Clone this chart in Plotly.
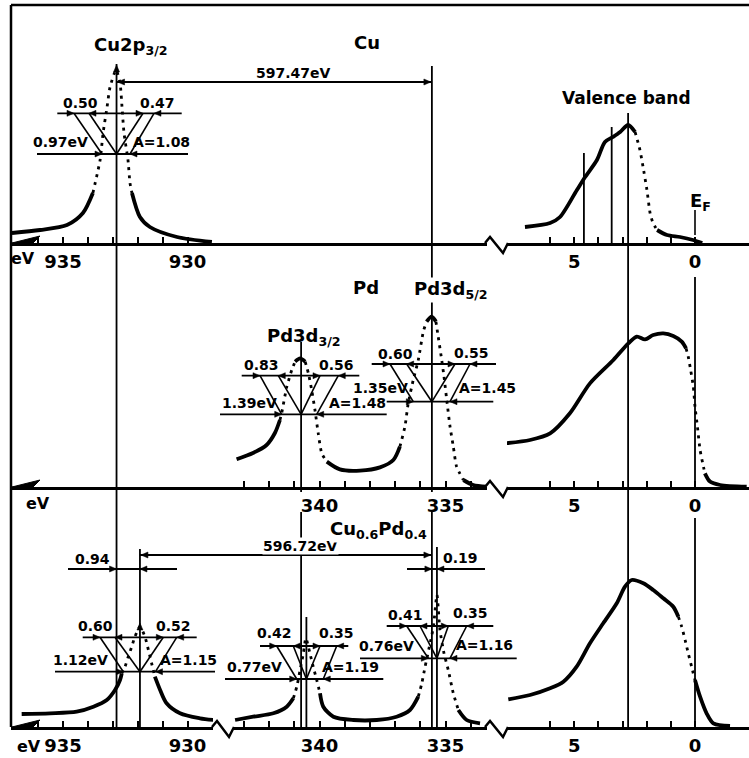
import plotly.graph_objects as go

W, H = 749, 758

# ---------------- data ----------------
# binding energy (eV) / intensity (arb. units); None separates segments
# --- Cu (top panel) ---
cu_top_solid_E = [937.05, 935.92, 934.84, 934.2, 933.8, None, 932.23, 931.91, 931.51, 930.42, 929.02]
cu_top_solid_I = [5, 6.5, 9, 15, 25, None, 25, 13, 8, 3, 0.5]
cu_top_dot_E = [933.8, 933.51, 933.39, 933.23, 933.11, 932.87, 932.71, 932.63, 932.55, 932.39, 932.31, 932.23]
cu_top_dot_I = [25, 41.5, 55, 68, 78, 86.5, 80, 68, 55, 41.5, 30, 25]

vb_cu_solid_E = [7.04, 6.0, 5.59, 4.89, 4.55, 4.06, 3.73, 3.4, 3.1, 2.77, 2.48, None, 1.57, 1.16, 0.62, 0.08, -0.3]
vb_cu_solid_I = [8, 10, 13, 26.5, 33, 41.5, 50.5, 53, 55.5, 59, 55.5, None, 6.5, 4, 3, 1.5, 0]
vb_cu_dot_E = [2.48, 2.28, 2.15, 1.99, 1.86, 1.74, 1.57]
vb_cu_dot_I = [55.5, 46.5, 38, 26.5, 15, 10, 6.5]

# --- Pd (middle panel) ---
pd_mid_solid_E = [343.29, 342.64, 342.10, 341.77, 341.57, None, 340.97, 340.77, 340.57, None,
                  339.71, 339.19, 338.39, 337.60, 337.07, 336.81, None, 335.75, 335.55, 335.38, None,
                  334.29, 333.90, 333.37]
pd_mid_solid_I = [13.85, 17, 21, 27, 33.5, None, 62.7, 64.3, 62.7, None,
                  12.7, 8.8, 8.2, 9.8, 13.5, 20.2, None, 82.7, 85.2, 82.7, None,
                  3.5, 1, 0.2]
pd_mid_dot_E = [341.57, 341.50, 341.30, 341.10, 340.97, None,
                340.57, 340.44, 340.31, 340.18, 340.05, 339.91, 339.71, None,
                336.81, 336.61, 336.48, 336.28, 336.08, 335.88, 335.75, None,
                335.38, 335.29, 335.15, 335.06, 334.95, 334.82, 334.69, 334.56, 334.29]
pd_mid_dot_I = [33.5, 37, 50, 58.5, 62.7, None,
                62.7, 56.8, 48.5, 38.5, 26.8, 16.8, 12.7, None,
                20.2, 30.2, 41.8, 53.5, 63.5, 77.7, 82.7, None,
                82.7, 75.2, 63.5, 55.2, 43.5, 30.2, 20.2, 10.2, 3.5]

vb_pd_solid_E = [7.87, 6.83, 6.00, 5.18, 4.35, 3.38, 2.76, 2.41, 2.07, 1.73, 1.31, 0.90, 0.55, 0.37, None,
                 -0.41, -0.62, -1.04, -2.14]
vb_pd_solid_I = [21.85, 23.5, 26.8, 36.85, 51.8, 63.5, 71.8, 75.2, 73.8, 76, 76.8, 75.5, 72.7, 69.3, None,
                 6.8, 2.7, 1, 0.2]
vb_pd_dot_E = [0.37, 0.28, 0.18, 0.07, 0.0, -0.10, -0.21, -0.32, -0.41]
vb_pd_dot_I = [69.3, 65.2, 58.5, 50.2, 40.2, 30.2, 18.5, 11.8, 6.8]

# --- Cu0.6Pd0.4 (bottom panel) ---
cu_bot_solid_E = [936.66, 935.52, 934.45, 933.78, 933.24, 932.91, 932.71, 932.64, None,
                  931.31, 931.10, 930.84, 930.30, 929.50, 928.96]
cu_bot_solid_I = [6.5, 6.85, 7.65, 10.15, 13.5, 18.5, 23.5, 26.85, None,
                  25.15, 18.5, 11.85, 6.85, 4.35, 3.5]
cu_bot_dot_E = [932.64, 932.51, 932.38, 932.24, 932.11, 931.91, 931.71, 931.57, 931.44, 931.31]
cu_bot_dot_I = [26.85, 30.15, 35.15, 40.15, 45.15, 50.15, 45.15, 38.5, 31.85, 25.15]

pd_bot_solid_E = [343.35, 342.63, 341.83, 341.30, 341.04, None,
                  339.98, 339.85, 339.45, 338.66, 337.73, 336.94, 336.41, 336.08, None,
                  334.49, 334.16, 333.63]
pd_bot_solid_I = [3.5, 5.15, 6.85, 10.15, 14.35, None,
                  16.85, 10.15, 5.15, 3.5, 3.5, 5.15, 8.5, 15.15, None,
                  8.5, 3.5, 1.85]
pd_bot_dot_E = [341.04, 340.90, 340.77, 340.64, 340.54, 340.38, 340.25, 340.11, 339.98, None,
                336.08, 335.94, 335.81, 335.64, 335.48, 335.34, 335.22, 335.06, 334.89, 334.69, 334.49]
pd_bot_dot_I = [14.35, 20.15, 28.5, 36.85, 44.35, 36.85, 30.15, 23.5, 16.85, None,
                15.15, 21.85, 30.15, 40.15, 50.15, 66, 48.5, 36.85, 28.5, 16.85, 8.5]

vb_al_solid_E = [7.73, 6.83, 6.00, 5.45, 4.90, 4.35, 3.80, 3.24, 2.90, 2.62, 2.14, 1.73, 1.31, 0.90, 0.69, None,
                 0.0, -0.21, -0.48, -0.76, -1.45]
vb_al_solid_I = [13.85, 16, 19.35, 22.65, 30.15, 41.85, 51.85, 61.85, 70.15, 73.5, 71.85, 68.5, 64.35, 60.15, 55.15, None,
                 23.5, 15.15, 6.85, 1.85, 0.5]
vb_al_dot_E = [0.69, 0.55, 0.41, 0.28, 0.14, 0.0]
vb_al_dot_I = [55.15, 50.15, 43.5, 36.85, 30.15, 23.5]

# peak / reference energies (eV)
cu_peak_pure = 932.85
cu_peak_alloy = 931.91
pd32_peak_pure = 340.73
pd52_peak_pure = 335.54
pd32_peak_alloy = 340.52
pd52_peak_alloy = 335.34
vb_cu_marks = [4.60, 3.45, 2.77]
fermi_level = 0.0

cu_ticks = [936, 935, 934, 933, 932, 931, 930]
pd_ticks = [343, 342, 341, 340, 339, 338, 337, 336, 335, 334]
vb_ticks = [6, 5, 4, 3, 2, 1, 0]
cu_labels = [935, 930]
pd_labels = [340, 335]
vb_labels = [5, 0]

# ---------------- layout helpers ----------------
FONT = "DejaVu Sans"
CAL = {"cu": (935.0, 63.0, 24.9), "pd": (335.0, 445.5, 25.2), "vb": (0.0, 695.0, 24.15)}
BASE = {"y": 243, "y2": 487, "y3": 727}
PANEL_H = 240
YMAX = 120


def e_at(kind, xpx):
    e0, x0, s = CAL[kind]
    return e0 - (xpx - x0) / s


def x_of(kind, e):
    e0, x0, s = CAL[kind]
    return x0 + (e0 - e) * s


def px(x):
    return x / W


def py(y):
    return 1 - y / H


fig = go.Figure()
shapes, annos = [], []

axes = [
    ("x", "cu", (11, 487), "y", cu_ticks, cu_labels),
    ("x2", "vb", (507, 749), "y", vb_ticks, vb_labels),
    ("x3", "pd", (11, 487), "y2", pd_ticks, pd_labels),
    ("x4", "vb", (507, 749), "y2", vb_ticks, vb_labels),
    ("x5", "cu", (11, 213), "y3", cu_ticks, cu_labels),
    ("x6", "pd", (234, 487), "y3", pd_ticks, pd_labels),
    ("x7", "vb", (507, 749), "y3", vb_ticks, vb_labels),
]
layout_axes = {}
for name, kind, (d0, d1), anchor, ticks, labels in axes:
    key = "xaxis" + name[1:]
    layout_axes[key] = dict(
        domain=[px(d0), px(d1)], range=[e_at(kind, d0), e_at(kind, d1)],
        anchor=anchor, showline=True, linecolor="black", linewidth=3,
        ticks="inside", ticklen=6, tickwidth=2, tickcolor="black",
        tickvals=labels, ticktext=[str(t) for t in labels],
        minor=dict(tickvals=ticks, ticks="inside", ticklen=6, tickwidth=2, tickcolor="black",
                   showgrid=False),
        tickfont=dict(family=FONT, size=18, color="black", weight="bold"),
        showgrid=False, zeroline=False, fixedrange=True)
for yname, xanc in (("y", "x"), ("y2", "x3"), ("y3", "x5")):
    b = BASE[yname]
    layout_axes["yaxis" + yname[1:]] = dict(domain=[py(b), py(b - PANEL_H)], range=[0, YMAX],
                                            anchor=xanc, visible=False, fixedrange=True)


def spectrum(xa, ya, Es, Is, Ed, Id):
    fig.add_trace(go.Scatter(x=Es, y=Is, xaxis=xa, yaxis=ya, mode="lines", connectgaps=False,
                             line=dict(color="black", width=3.8, shape="spline", smoothing=0.8),
                             showlegend=False, hoverinfo="skip"))
    fig.add_trace(go.Scatter(x=Ed, y=Id, xaxis=xa, yaxis=ya, mode="lines", connectgaps=False,
                             line=dict(color="black", width=2.8, dash="3px,5px",
                                       shape="spline", smoothing=0.6),
                             showlegend=False, hoverinfo="skip"))


spectrum("x", "y", cu_top_solid_E, cu_top_solid_I, cu_top_dot_E, cu_top_dot_I)
spectrum("x2", "y", vb_cu_solid_E, vb_cu_solid_I, vb_cu_dot_E, vb_cu_dot_I)
spectrum("x3", "y2", pd_mid_solid_E, pd_mid_solid_I, pd_mid_dot_E, pd_mid_dot_I)
spectrum("x4", "y2", vb_pd_solid_E, vb_pd_solid_I, vb_pd_dot_E, vb_pd_dot_I)
spectrum("x5", "y3", cu_bot_solid_E, cu_bot_solid_I, cu_bot_dot_E, cu_bot_dot_I)
spectrum("x6", "y3", pd_bot_solid_E, pd_bot_solid_I, pd_bot_dot_E, pd_bot_dot_I)
spectrum("x7", "y3", vb_al_solid_E, vb_al_solid_I, vb_al_dot_E, vb_al_dot_I)


def seg(x0, y0, x1, y1, w=1.8):
    shapes.append(dict(type="line", xref="paper", yref="paper", x0=px(x0), y0=py(y0),
                       x1=px(x1), y1=py(y1), line=dict(color="black", width=w)))


def poly(points, fill=True, w=1.0):
    d = "M " + " L ".join(f"{px(x):.5f},{py(y):.5f}" for x, y in points)
    if fill:
        d += " Z"
    shapes.append(dict(type="path", xref="paper", yref="paper", path=d,
                       fillcolor="black" if fill else "rgba(0,0,0,0)",
                       line=dict(color="black", width=w)))


def head(x, y, d, L=7, hw=3):
    if d == "r":
        pts = [(x, y), (x - L, y - hw), (x - L, y + hw)]
    elif d == "l":
        pts = [(x, y), (x + L, y - hw), (x + L, y + hw)]
    else:  # up
        pts = [(x, y), (x - hw, y + L), (x + hw, y + L)]
    poly(pts, True, 0.5)


def txt(s, x, y, size=14, bg=None):
    annos.append(dict(text=s, x=px(x), y=py(y), xref="paper", yref="paper", showarrow=False,
                      xanchor="center", yanchor="middle", borderpad=0,
                      bgcolor=bg if bg else "rgba(0,0,0,0)",
                      font=dict(family=FONT, size=size, color="black", weight="bold")))


# frame
seg(11, 5, 749, 5, 2.5)
seg(11, 5, 11, 727, 2.5)

# left arrows on base lines and axis breaks
for b in BASE.values():
    poly([(12, b), (40, b - 7), (33, b)], True, 1)
    poly([(485, b), (490, b - 6), (503, b + 10), (508, b)], False, 2.5)
poly([(212, 727), (217, 721), (229, 737), (234, 727)], False, 2.5)

# "eV" axis labels
txt("eV", 23, 258, 16)
txt("eV", 38, 503, 16)
txt("eV", 29, 746, 16)

# vertical reference lines
xc_cu = x_of("cu", cu_peak_pure)
xc_cua = x_of("cu", cu_peak_alloy)
xp32 = x_of("pd", pd32_peak_pure)
xp52 = x_of("pd", pd52_peak_pure)
xp32a = x_of("pd", pd32_peak_alloy)
xp52a = x_of("pd", pd52_peak_alloy)
xef = x_of("vb", fermi_level)
seg(xc_cu, 64, xc_cu, 727, 1.8)
seg(xp52, 66, xp52, 492, 1.8)
seg(xp52, 512, xp52, 727, 1.8)
seg(xp32, 342, xp32, 492, 1.8)
seg(xp32, 512, xp32, 727, 1.8)
vb_tops = [153, 127, 113]
for e, yt in zip(vb_cu_marks, vb_tops):
    xv = x_of("vb", e)
    seg(xv, yt, xv, 243 if e != vb_cu_marks[-1] else 727, 1.8)
seg(xef, 210, xef, 235, 1.6)
seg(xef, 277, xef, 487, 1.8)
seg(xef, 518, xef, 727, 1.8)
seg(xc_cua, 549, xc_cua, 727, 1.8)
seg(xp32a, 617, xp32a, 727, 1.8)
seg(xp52a, 547, xp52a, 727, 1.8)

# peak arrow tips
head(xc_cu, 65, "u")
head(xc_cua, 623, "u")

# energy separation arrows
seg(xc_cu, 82, xp52, 82, 1.8)
head(xc_cu + 1, 82, "l")
head(xp52 - 1, 82, "r")
txt("597.47eV", 293, 73, 14)

seg(xc_cua, 555, xp52, 555, 1.8)
head(xc_cua + 1, 555, "l")
head(xp52 - 1, 555, "r")
txt("596.72eV", 300, 546, 14, "white")

seg(68, 569, 177, 569, 1.8)
head(xc_cu, 569, "r")
head(xc_cua, 569, "l")
txt("0.94", 92, 559, 14)

seg(407, 569, 485, 569, 1.8)
head(xp52, 569, "r")
head(xp52a, 569, "l")
txt("0.19", 460, 558, 14)


def fwhm(c, ylo, yup, hl, hr, ul, ur, lo, up, texts):
    seg(lo[0], ylo, lo[1], ylo, 1.8)
    seg(up[0], yup, up[1], yup, 1.8)
    seg(ul[0], yup, hl, ylo, 1.6)
    seg(ul[1], yup, c, ylo, 1.6)
    seg(ur[0], yup, c, ylo, 1.6)
    seg(ur[1], yup, hr, ylo, 1.6)
    head(hl, ylo, "r")
    head(hr, ylo, "l")
    head(ul[0], yup, "r")
    head(ul[1], yup, "l")
    head(ur[0], yup, "r")
    head(ur[1], yup, "l")
    for s, x, y in texts:
        txt(s, x, y, 14)


fwhm(xc_cu, 154, 113.3, 102, 130, (74, 89), (143, 154), (37, 188), (57.3, 181.7),
     [("0.50", 80, 103), ("0.47", 157, 103), ("0.97eV", 60, 142), ("A=1.08", 161, 142)])
fwhm(xp32, 414.3, 375.7, 281.7, 316.7, (260, 278.3), (320, 338.3), (220, 386.7), (241.7, 359.3),
     [("0.83", 261.7, 365), ("0.56", 336.7, 365), ("1.39eV", 249, 403), ("A=1.48", 357.5, 403)])
fwhm(xp52, 401.7, 364, 413.3, 450, (390, 406.7), (455, 470), (386.7, 493.3), (371.7, 496),
     [("0.60", 395, 354.3), ("0.55", 471.7, 353.3), ("1.35eV", 380, 388.3), ("A=1.45", 487, 388.3)])
fwhm(xc_cua, 671.7, 637.3, 123.3, 155.5, (100, 115), (163.3, 176.7), (55, 215), (82.7, 196.7),
     [("0.60", 95, 626), ("0.52", 173.3, 626), ("1.12eV", 80, 660), ("A=1.15", 188, 660)])
fwhm(xp32a, 679, 646, 296.7, 323.3, (276.7, 293.3), (320, 336.7), (225, 383.3), (260, 348.3),
     [("0.42", 274, 633.3), ("0.35", 336.7, 633.3), ("0.77eV", 255, 666.7), ("A=1.19", 350, 666.7)])
fwhm(xp52a, 658.3, 626, 428.3, 450, (406.7, 420), (448.3, 466.7), (360, 516.7), (386.7, 493.3),
     [("0.41", 405, 615), ("0.35", 470, 613.3), ("0.76eV", 386.7, 646), ("A=1.16", 484, 645)])

# titles / labels
txt("Cu2p<sub>3/2</sub>", 131, 46, 18)
txt("Cu", 367, 43, 18)
txt("Valence band", 626, 98, 17)
txt("E<sub>F</sub>", 700, 202, 18)
txt("Pd", 366, 287, 18)
txt("Pd3d<sub>5/2</sub>", 451, 290, 18, "white")
txt("Pd3d<sub>3/2</sub>", 304, 337, 18)
txt("Cu<sub>0.6</sub>Pd<sub>0.4</sub>", 379, 530, 18, "white")

fig.update_layout(width=W, height=H, autosize=False, margin=dict(l=0, r=0, t=0, b=0),
                  paper_bgcolor="white", plot_bgcolor="rgba(0,0,0,0)", showlegend=False,
                  shapes=shapes, annotations=annos, **layout_axes)

fig.write_html("out.html")
